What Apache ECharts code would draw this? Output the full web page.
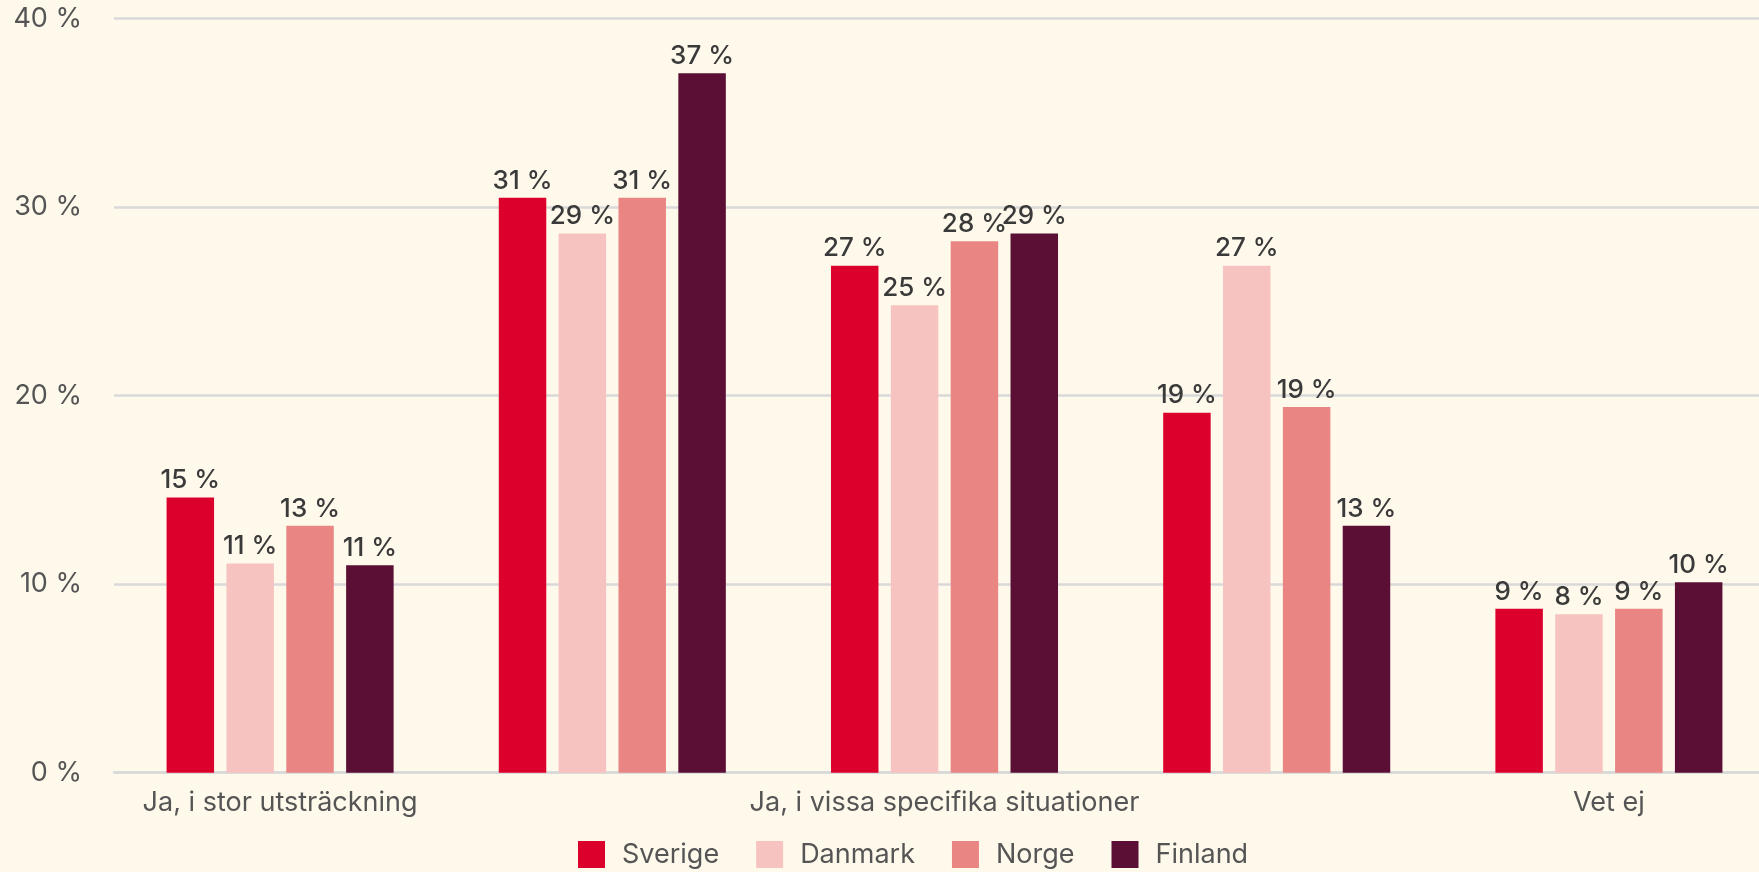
<!DOCTYPE html>
<html lang="sv">
<head>
<meta charset="utf-8">
<title>Andel per land</title>
<script src="https://cdn.jsdelivr.net/npm/echarts@6/dist/echarts.min.js"></script>
<style>
  html, body { margin: 0; padding: 0; background: #FFF9EC; }
  #chart { width: 1759px; height: 872px; }
</style>
</head>
<body>
<div id="chart"></div>
<script>
// Svarsalternativ (x-axel)
const categories = [
  'Ja, i stor utsträckning',
  'Ja, i viss utsträckning',
  'Ja, i vissa specifika situationer',
  'Nej, inte alls',
  'Vet ej'
];

// Andel (%) per land
const sverige = [14.6, 30.5, 26.9, 19.1, 8.7];
const danmark = [11.1, 28.6, 24.8, 26.9, 8.4];
const norge   = [13.1, 30.5, 28.2, 19.4, 8.7];
const finland = [11.0, 37.1, 28.6, 13.1, 10.1];

const countries = ['Sverige', 'Danmark', 'Norge', 'Finland'];
const seriesValues = [sverige, danmark, norge, finland];
const colors = ['#DC002D', '#F7C3C0', '#E98683', '#5C0F35'];

// Y-axelns skala
const yMin = 0;
const yMax = 40;
const yStep = 10;

const fontFamily = 'Inter, Lato, sans-serif';

const chart = echarts.init(document.getElementById('chart'), null, { renderer: 'canvas' });

const series = countries.map((name, i) => ({
  name: name,
  type: 'bar',
  data: seriesValues[i],
  barWidth: 47.5,
  barGap: '26%',
  itemStyle: { color: colors[i] },
  label: {
    show: true,
    position: 'top',
    distance: 4,
    color: '#3A3A3A',
    fontFamily: fontFamily,
    fontSize: 26,
    fontWeight: 500,
    formatter: p => Math.round(p.value) + ' %'
  }
}));

chart.setOption({
  backgroundColor: '#FFF9EC',
  animation: false,
  textStyle: { fontFamily: fontFamily },
  grid: {
    left: 114,
    right: -16,
    top: 18.7,
    bottom: 99.3,
    containLabel: false,
    outerBoundsMode: 'none'
  },
  legend: {
    data: countries,
    left: 573,
    top: 836,
    itemWidth: 27,
    itemHeight: 27,
    itemGap: 37,
    icon: 'rect',
    textStyle: {
      color: '#555555',
      fontFamily: fontFamily,
      fontSize: 27,
      padding: [0, 0, 0, 12]
    }
  },
  xAxis: {
    type: 'category',
    data: categories,
    axisLine: { show: true, lineStyle: { color: '#D9D9D9', width: 2.5 } },
    axisTick: { show: false },
    axisLabel: {
      interval: 1,
      color: '#555555',
      fontFamily: fontFamily,
      fontSize: 27,
      margin: 17
    }
  },
  yAxis: {
    type: 'value',
    min: yMin,
    max: yMax,
    interval: yStep,
    axisLine: { show: false },
    axisTick: { show: false },
    splitLine: { show: true, lineStyle: { color: '#D9D9D9', width: 2.5 } },
    axisLabel: {
      color: '#555555',
      fontFamily: fontFamily,
      fontSize: 27,
      margin: 32,
      formatter: v => v + ' %'
    }
  },
  series: series
});
</script>
</body>
</html>
